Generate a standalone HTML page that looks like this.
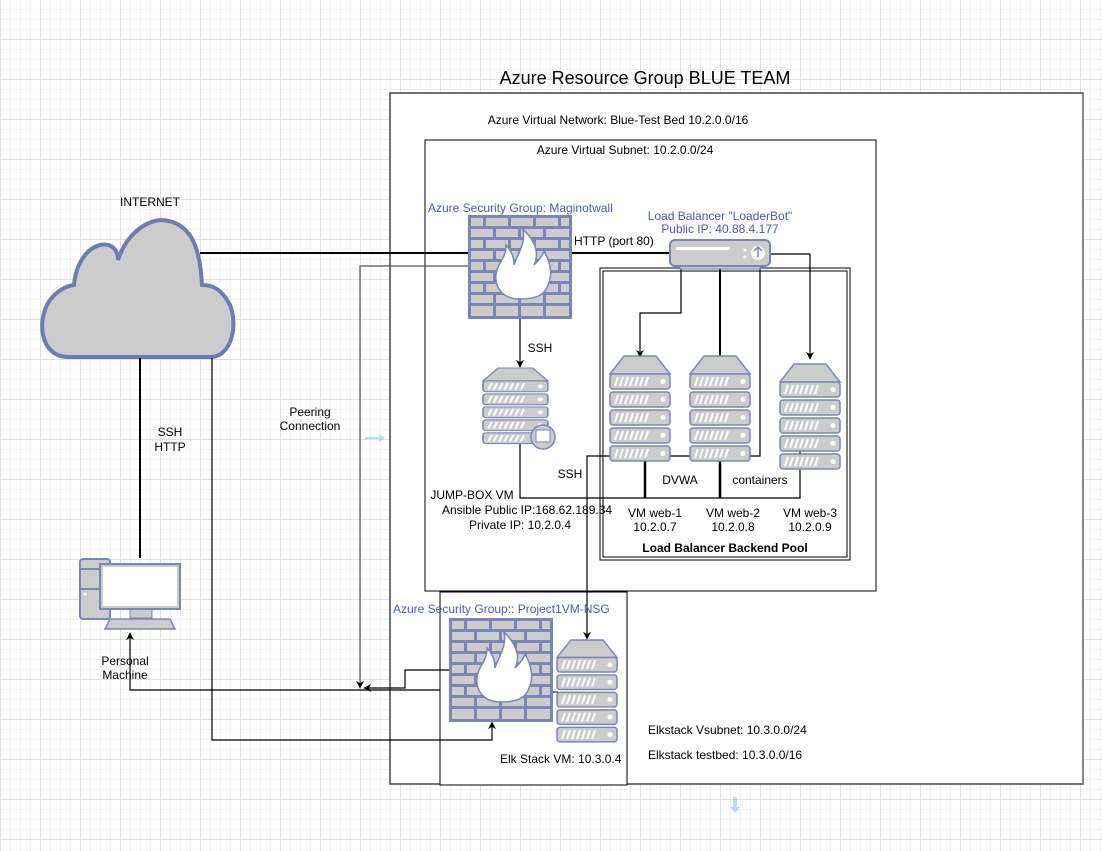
<!DOCTYPE html>
<html><head><meta charset="utf-8"><style>
html,body{margin:0;padding:0;background:#fff;}
svg{display:block;font-family:"Liberation Sans",sans-serif;}
</style></head><body>
<svg width="1102" height="851" viewBox="0 0 1102 851" xmlns="http://www.w3.org/2000/svg">
<defs>
<pattern id="minor" width="10" height="10" patternUnits="userSpaceOnUse" x="0" y="0">
<path d="M0.5 0V10M0 9.5H10" stroke="#f2f2f2" stroke-width="1" fill="none"/></pattern>
<pattern id="major" width="40" height="40" patternUnits="userSpaceOnUse" x="0" y="0">
<path d="M0.5 0V40M0 39.5H40" stroke="#e0e0e0" stroke-width="1" fill="none"/></pattern>
<marker id="ar" viewBox="0 0 10 10" refX="9" refY="5" markerWidth="8" markerHeight="8" orient="auto-start-reverse" markerUnits="userSpaceOnUse"><path d="M0 0L10 5L0 10L3 5Z" fill="#000"/></marker>
<g id="fw">
<rect x="0" y="0" width="104" height="104" fill="#7a86b8"/>
<g fill="#cccccc">
<rect x="3" y="3" width="12" height="8"/><rect x="18" y="3" width="22" height="8"/><rect x="43" y="3" width="22" height="8"/><rect x="68" y="3" width="22" height="8"/><rect x="93" y="3" width="8" height="8"/>
<rect x="3" y="14" width="22" height="8"/><rect x="28" y="14" width="22" height="8"/><rect x="53" y="14" width="22" height="8"/><rect x="78" y="14" width="23" height="8"/>
<rect x="3" y="25" width="12" height="8"/><rect x="18" y="25" width="22" height="8"/><rect x="43" y="25" width="22" height="8"/><rect x="68" y="25" width="22" height="8"/><rect x="93" y="25" width="8" height="8"/>
<rect x="3" y="36" width="22" height="8"/><rect x="28" y="36" width="22" height="8"/><rect x="53" y="36" width="22" height="8"/><rect x="78" y="36" width="23" height="8"/>
<rect x="3" y="47" width="12" height="8"/><rect x="18" y="47" width="22" height="8"/><rect x="43" y="47" width="22" height="8"/><rect x="68" y="47" width="22" height="8"/><rect x="93" y="47" width="8" height="8"/>
<rect x="3" y="58" width="22" height="8"/><rect x="28" y="58" width="22" height="8"/><rect x="53" y="58" width="22" height="8"/><rect x="78" y="58" width="23" height="8"/>
<rect x="3" y="69" width="12" height="8"/><rect x="18" y="69" width="22" height="8"/><rect x="43" y="69" width="22" height="8"/><rect x="68" y="69" width="22" height="8"/><rect x="93" y="69" width="8" height="8"/>
<rect x="3" y="80" width="22" height="8"/><rect x="28" y="80" width="22" height="8"/><rect x="53" y="80" width="22" height="8"/><rect x="78" y="80" width="23" height="8"/>
<rect x="3" y="91" width="22" height="10"/><rect x="28" y="91" width="22" height="10"/><rect x="53" y="91" width="22" height="10"/><rect x="78" y="91" width="23" height="10"/>
</g>
<path d="M52 84 C30 84 24 66 30 52 C34 44 38 40 38 30 C45 38 46 44 46 50 C50 38 58 28 55 14 C67 26 72 38 66 50 C70 46 74 42 76 36 C84 50 84 62 80 70 C77 80 68 84 52 84Z" fill="#fff" stroke="#7a86b8" stroke-width="1.5"/>
</g>
<g id="srv">
<path d="M0 18 L14 0 L46 0 L60 18 Z" fill="#cccccc" stroke="#7a86b8" stroke-width="1.5"/>
<g fill="#cccccc" stroke="#7a86b8" stroke-width="1.5">
<rect x="0" y="18" width="60" height="15" rx="3"/><rect x="0" y="36" width="60" height="15" rx="3"/><rect x="0" y="54" width="60" height="15" rx="3"/><rect x="0" y="72" width="60" height="15" rx="3"/><rect x="0" y="90" width="60" height="15" rx="3"/>
</g>
<g stroke="#fff" stroke-width="2"><path d="M5 30l3-9M10 30l3-9M15 30l3-9M20 30l3-9M25 30l3-9M30 30l3-9M35 30l3-9M5 48l3-9M10 48l3-9M15 48l3-9M20 48l3-9M25 48l3-9M30 48l3-9M35 48l3-9M5 66l3-9M10 66l3-9M15 66l3-9M20 66l3-9M25 66l3-9M30 66l3-9M35 66l3-9M5 84l3-9M10 84l3-9M15 84l3-9M20 84l3-9M25 84l3-9M30 84l3-9M35 84l3-9M5 102l3-9M10 102l3-9M15 102l3-9M20 102l3-9M25 102l3-9M30 102l3-9M35 102l3-9"/></g>
<g fill="#fff"><circle cx="53" cy="25.5" r="2.5"/><circle cx="53" cy="43.5" r="2.5"/><circle cx="53" cy="61.5" r="2.5"/><circle cx="53" cy="79.5" r="2.5"/><circle cx="53" cy="97.5" r="2.5"/></g>
</g>
</defs>
<rect width="1102" height="851" fill="#fff"/>
<rect width="1102" height="851" fill="url(#minor)"/>
<rect width="1102" height="851" fill="url(#major)"/>

<rect x="390" y="93" width="693" height="691" fill="#fff" stroke="#444" stroke-width="1.5"/>
<line x1="1083" y1="93" x2="1083" y2="784" stroke="#888" stroke-width="2"/>
<text x="645" y="84" font-size="18" text-anchor="middle" fill="#000">Azure Resource Group BLUE TEAM</text>
<text x="618" y="124" font-size="12" text-anchor="middle">Azure Virtual Network: Blue-Test Bed 10.2.0.0/16</text>

<rect x="425" y="140" width="451" height="451" fill="#fff" stroke="#000" stroke-width="1"/>
<text x="625" y="154" font-size="12" text-anchor="middle">Azure Virtual Subnet: 10.2.0.0/24</text>

<rect x="600" y="268" width="250" height="292" fill="none" stroke="#000" stroke-width="1"/>
<rect x="603" y="271" width="244" height="286" fill="none" stroke="#000" stroke-width="1"/>

<rect x="440" y="592" width="187" height="193" fill="#fff" stroke="#000" stroke-width="1"/>

<path d="M68 357 C40 357 36 320 50 300 C58 290 66 286 74 285 C76 262 88 248 100 245 C110 243 118 248 118 260 C128 230 150 220 162 220 C190 222 200 245 202 285 C214 285 222 290 230 305 C238 325 232 355 212 357 Z" fill="#cccccc" stroke="#6f7cb4" stroke-width="4"/>
<text x="150" y="206" font-size="12" text-anchor="middle">INTERNET</text>

<g fill="none" stroke="#000">
<path d="M200 253H470" stroke-width="2"/>
<path d="M470 266H360V688" stroke="#555" stroke-width="1.2" marker-end="url(#ar)"/>
<path d="M140 358V558" stroke-width="2"/>
<path d="M212 358V740H492V722" stroke-width="1.2" marker-end="url(#ar)"/>
<path d="M440 690H130V633" stroke-width="1.2" marker-end="url(#ar)"/>
<path d="M450 670H405V688H364" stroke-width="1.2" marker-end="url(#ar)"/>
<path d="M552 692H558" stroke-width="1"/>
<path d="M572 253H670" stroke-width="2"/>
<path d="M770 254H810V359" stroke-width="1.2" marker-end="url(#ar)"/>
<path d="M681 266V313H640V357" stroke-width="1.2" marker-end="url(#ar)"/>
<path d="M720 266V356" stroke-width="2"/>
<path d="M760 266V456H587V639" stroke-width="1.2" marker-end="url(#ar)"/>
<path d="M520 318V367" stroke-width="1.2" marker-end="url(#ar)"/>
<path d="M520 440V498H800V450" stroke-width="1.2"/>
<path d="M645 460V498" stroke-width="2.5"/>
<path d="M720 450V498" stroke-width="2.5"/>
</g>

<use href="#fw" x="468" y="215"/>
<use href="#fw" x="449" y="618"/>
<text x="428" y="212" font-size="12" fill="#4a5ab8">Azure Security Group: Maginotwall</text>
<text x="393" y="613" font-size="12" fill="#4a5ab8">Azure Security Group:: Project1VM-NSG</text>
<text x="574" y="245" font-size="12">HTTP (port 80)</text>

<rect x="680" y="264" width="80" height="5" fill="#ccc" stroke="#7a86b8"/>
<rect x="670" y="240" width="100" height="26" rx="5" fill="#cccccc" stroke="#7a86b8" stroke-width="2"/>
<g fill="#fff"><rect x="676" y="247" width="54" height="3"/><circle cx="745" cy="250" r="1.5"/><circle cx="745" cy="257" r="1.5"/><circle cx="758" cy="253" r="7" fill="#fff"/></g>
<path d="M758 248v9M754 251l4-4 4 4" stroke="#7a86b8" stroke-width="1.5" fill="none"/>
<text x="720" y="220" font-size="12" text-anchor="middle" fill="#4a5ab8">Load Balancer "LoaderBot"</text>
<text x="720" y="233" font-size="12" text-anchor="middle" fill="#4a5ab8">Public IP: 40.88.4.177</text>

<use href="#srv" x="483" y="368" transform="translate(483 368) scale(1.08 0.72) translate(-483 -368)"/>
<circle cx="543" cy="437" r="12" fill="#ccc" stroke="#7a86b8" stroke-width="1.5"/>
<rect x="536" y="430" width="14" height="12" fill="#fff" stroke="#7a86b8"/>
<use href="#srv" x="610" y="356"/>
<use href="#srv" x="690" y="356"/>
<use href="#srv" x="780" y="364"/>
<use href="#srv" x="557" y="640" transform="translate(557 640) scale(1 0.97) translate(-557 -640)"/>

<rect x="80" y="559" width="30" height="60" rx="3" fill="#ccc" stroke="#7a86b8" stroke-width="2"/>
<line x1="80" y1="569" x2="100" y2="569" stroke="#7a86b8" stroke-width="2"/>
<line x1="80" y1="589" x2="100" y2="589" stroke="#7a86b8" stroke-width="2"/>
<circle cx="85" cy="594" r="1.5" fill="#fff"/>
<rect x="130" y="609" width="22" height="9" fill="#ccc" stroke="#7a86b8"/>
<rect x="100" y="564" width="80" height="45" fill="#ccc" stroke="#7a86b8" stroke-width="2"/>
<rect x="103" y="567" width="74" height="39" fill="#fff"/>
<path d="M110 619H170L175 629H105Z" fill="#ccc" stroke="#7a86b8" stroke-width="1.5"/>

<g font-size="12" text-anchor="middle">
<text x="170" y="436">SSH</text><text x="170" y="451">HTTP</text>
<text x="310" y="416">Peering</text><text x="310" y="430">Connection</text>
<text x="540" y="352">SSH</text>
<text x="570" y="478">SSH</text>
<text x="680" y="484">DVWA</text>
<text x="760" y="484">containers</text>
<text x="472" y="499">JUMP-BOX VM</text>
<text x="527" y="514">Ansible Public IP:168.62.189.34</text>
<text x="520" y="529">Private IP: 10.2.0.4</text>
<text x="655" y="517">VM web-1</text><text x="655" y="531">10.2.0.7</text>
<text x="733" y="517">VM web-2</text><text x="733" y="531">10.2.0.8</text>
<text x="810" y="517">VM web-3</text><text x="810" y="531">10.2.0.9</text>
<text x="725" y="552" font-weight="bold">Load Balancer Backend Pool</text>
<text x="125" y="665">Personal</text><text x="125" y="679">Machine</text>
</g>
<g font-size="12">
<text x="648" y="734">Elkstack Vsubnet: 10.3.0.0/24</text>
<text x="648" y="759">Elkstack testbed: 10.3.0.0/16</text>
<text x="500" y="763">Elk Stack VM: 10.3.0.4</text>
</g>
<g fill="#7fb3f0"><path d="M365 437h14v-3l6 4-6 4v-3h-14z" opacity="0.5"/><path d="M733 797v10h-3l5 6 5-6h-3v-10z" opacity="0.5"/></g>
</svg>
</body></html>
